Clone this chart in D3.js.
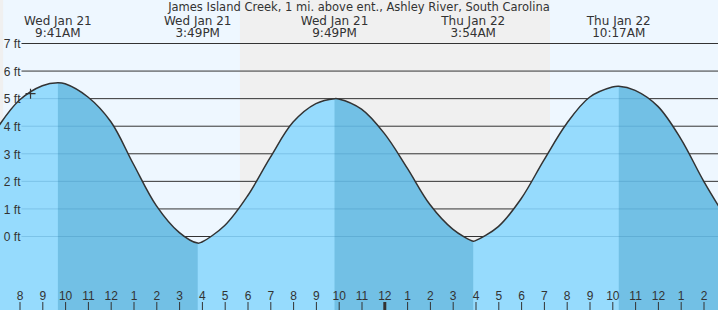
<!DOCTYPE html>
<html>
<head>
<meta charset="utf-8">
<script src="https://cdn.jsdelivr.net/npm/d3@7"></script>
<style>
  body { margin: 0; background: #fff; }
  #tideChart { width: 718px; height: 310px; }
  text { font-family: "Liberation Sans", Arial, sans-serif; fill: #333; }
  .tideLabel, .title { font-family: "DejaVu Sans", Verdana, sans-serif; }
</style>
</head>
<body>
<div id="tideChart"></div>
<script>
// station name shown on top
const stationTitle = "James Island Creek, 1 mi. above ent., Ashley River, South Carolina";

// high / low tides (label lines, time, height in ft)
const extremeDays = ["Wed Jan 21", "Wed Jan 21", "Wed Jan 21", "Thu Jan 22", "Thu Jan 22"];
const extremeClock = ["9:41AM", "3:49PM", "9:49PM", "3:54AM", "10:17AM"];
const extremeTimes = ["2026-01-21T09:41", "2026-01-21T15:49", "2026-01-21T21:49", "2026-01-22T03:54", "2026-01-22T10:17"];
const extremeHeights = [5.58, -0.24, 5.0, -0.17, 5.45];
const extremeTypes = ["H", "L", "H", "L", "H"];

// heights read every hour, from Wed 7:00 to Thu 15:00
const hourlyStart = "2026-01-21T07:00";
const hourlyHeights = [3.9, 4.95, 5.47, 5.54, 5.06, 4.17, 2.62, 1.12, 0.15, -0.2,
  0.4, 1.47, 2.87, 4.15, 4.82, 4.99, 4.62, 3.74, 2.49, 1.16, 0.27, -0.15,
  0.36, 1.37, 2.77, 4.1, 5.05, 5.42, 5.3, 4.72, 3.55, 2.02, 0.65];

// night periods (sunset -> sunrise)
const nightStarts = ["2026-01-21T05:00", "2026-01-21T17:40"];
const nightEnds = ["2026-01-21T07:17", "2026-01-22T07:16"];

// "+" marker (time now)
const nowTime = "2026-01-21T08:29";
const nowHeight = 5.18;

// y ticks
const feetTicks = [0, 1, 2, 3, 4, 5, 6, 7];

// sizes and colours
const W = 718, H = 310;
const dayColor = "#eef7ff", nightColor = "#f0f0f0";
const waterLight = "#96dbfd", waterDark = "#72c0e5";

const parse = d3.timeParse("%Y-%m-%dT%H:%M");

const svg = d3.select("#tideChart")
  .append("svg")
    .attr("width", W)
    .attr("height", H);

// scales
const xScale = d3.scaleTime()
  .domain([parse("2026-01-21T08:00"), parse("2026-01-22T14:00")])
  .range([19.5, 703.5]);

const yScale = d3.scaleLinear()
  .domain([0, 7])
  .range([236.5, 43.5]);

// data points for the curve
const t0 = parse(hourlyStart);
let tidePoints = hourlyHeights.map((h, i) => ({ t: d3.timeHour.offset(t0, i), h: h }));
extremeTimes.forEach((s, i) => tidePoints.push({ t: parse(s), h: extremeHeights[i] }));
tidePoints.sort((a, b) => a.t - b.t);

// background: day then nights
svg.append("rect")
  .attr("width", W).attr("height", H)
  .attr("fill", dayColor);

svg.selectAll(".night")
  .data(nightStarts)
  .enter()
  .append("rect")
    .attr("class", "night")
    .attr("x", (d) => Math.max(0, xScale(parse(d))))
    .attr("y", 0)
    .attr("width", (d, i) => xScale(parse(nightEnds[i])) - Math.max(0, xScale(parse(d))))
    .attr("height", H)
    .attr("fill", nightColor);

// grid lines
svg.selectAll(".gline")
  .data(feetTicks)
  .enter()
  .append("line")
    .attr("class", "gline")
    .attr("x1", 21.5)
    .attr("x2", W)
    .attr("y1", d => yScale(d))
    .attr("y2", d => yScale(d))
    .attr("stroke", "#333");

// water
const area = d3.area()
  .x(d => xScale(d.t))
  .y0(H)
  .y1(d => yScale(d.h))
  .curve(d3.curveCatmullRom.alpha(0.5));

const line = d3.line()
  .x(d => xScale(d.t))
  .y(d => yScale(d.h))
  .curve(d3.curveCatmullRom.alpha(0.5));

svg.append("clipPath")
  .attr("id", "waterClip")
  .append("path")
    .attr("d", area(tidePoints));

svg.append("path")
  .attr("d", area(tidePoints))
  .attr("fill", waterLight);

// falling tide = darker (from each high to the next low)
const waterG = svg.append("g").attr("clip-path", "url(#waterClip)");
const falling = extremeTimes.map((s, i) => ({ i: i, type: extremeTypes[i] }))
  .filter(d => d.type === "H");

waterG.selectAll(".falling")
  .data(falling)
  .enter()
  .append("rect")
    .attr("class", "falling")
    .attr("x", d => xScale(parse(extremeTimes[d.i])))
    .attr("y", 0)
    .attr("width", d => {
      const end = d.i + 1 < extremeTimes.length ? xScale(parse(extremeTimes[d.i + 1])) : W;
      return end - xScale(parse(extremeTimes[d.i]));
    })
    .attr("height", H)
    .attr("fill", waterDark);

// grid lines seen through the water
waterG.selectAll(".wline")
  .data(feetTicks)
  .enter()
  .append("line")
    .attr("x1", 21.5)
    .attr("x2", W)
    .attr("y1", d => yScale(d))
    .attr("y2", d => yScale(d))
    .attr("stroke", "rgba(30,110,160,0.22)");

// water surface
svg.append("path")
  .attr("d", line(tidePoints))
  .attr("fill", "none")
  .attr("stroke", "#333")
  .attr("stroke-width", 1.5);

// ft labels on top of everything
const yAxis = d3.axisLeft(yScale)
  .tickValues(feetTicks)
  .tickSize(0)
  .tickPadding(1)
  .tickFormat(d => d + " ft");

const ftG = svg.append("g")
  .attr("transform", "translate(21.5,0)")
  .call(yAxis);
ftG.select(".domain").remove();
ftG.selectAll("text")
  .attr("font-size", 12)
  .attr("fill", "#333")
  .attr("dy", "0.36em");

// "+" marker
const nx = xScale(parse(nowTime)), ny = yScale(nowHeight);
svg.append("path")
  .attr("d", `M${nx - 5},${ny}H${nx + 5}M${nx},${ny - 5}V${ny + 5}`)
  .attr("stroke", "#333")
  .attr("stroke-width", 1.2);

// hour axis at the bottom
const xAxis = d3.axisTop(xScale)
  .ticks(d3.timeHour.every(1))
  .tickSize(8)
  .tickPadding(2)
  .tickFormat(d3.timeFormat("%-I"));

const hourG = svg.append("g")
  .attr("transform", `translate(0,${H})`)
  .call(xAxis);
hourG.select(".domain").remove();
hourG.selectAll("line")
  .attr("stroke", "#333")
  .attr("stroke-width", d => d.getHours() === 0 ? 3 : 1);
hourG.selectAll("text")
  .attr("font-size", 12)
  .attr("fill", "#333");

// title
svg.append("text")
  .attr("class", "title")
  .attr("x", W / 2)
  .attr("y", 11)
  .attr("text-anchor", "middle")
  .attr("font-size", 11.5)
  .text(stationTitle);

// high / low labels
const labelG = svg.selectAll(".tideLabel")
  .data(extremeTimes)
  .enter()
  .append("text")
    .attr("class", "tideLabel")
    .attr("text-anchor", "middle")
    .attr("font-size", 12);

labelG.append("tspan")
  .attr("x", d => xScale(parse(d)))
  .attr("y", 24.5)
  .text((d, i) => extremeDays[i]);

labelG.append("tspan")
  .attr("x", d => xScale(parse(d)))
  .attr("y", 36.5)
  .text((d, i) => extremeClock[i]);
</script>
</body>
</html>
